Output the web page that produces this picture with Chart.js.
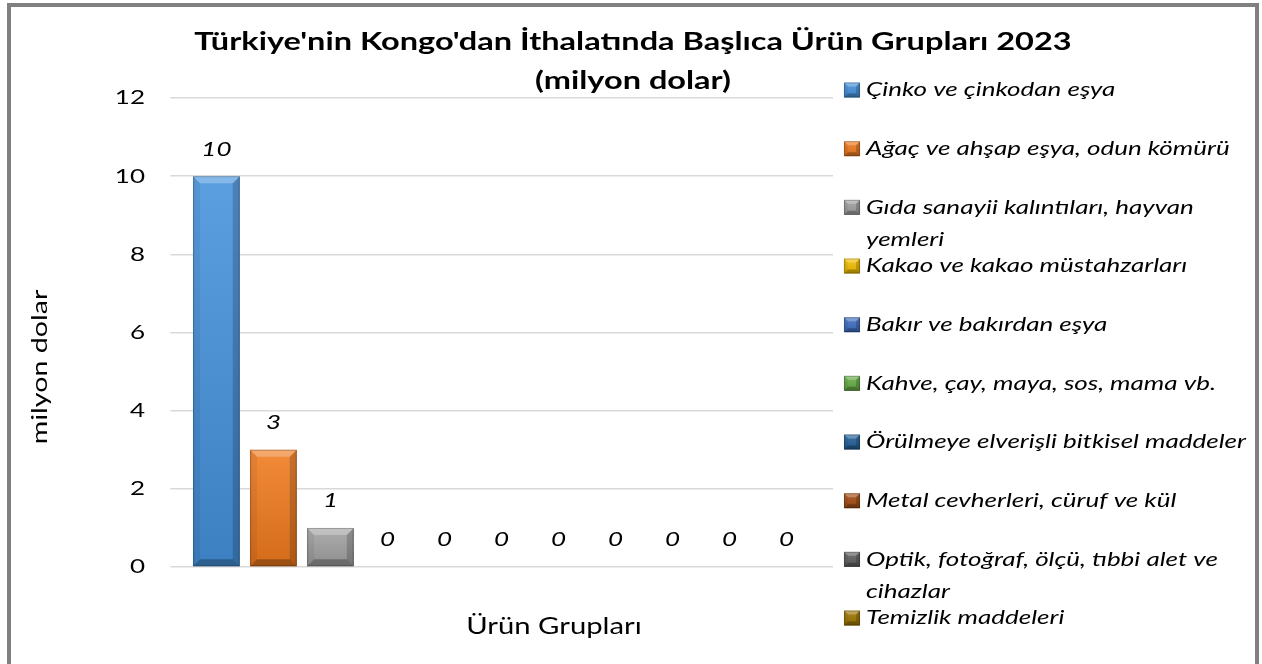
<!DOCTYPE html>
<html><head><meta charset="utf-8">
<script src="https://cdn.jsdelivr.net/npm/chart.js@4/dist/chart.umd.min.js"></script>
<style>
html,body{margin:0;padding:0;background:#fff;}
#wrap{position:relative;width:1262px;height:664px;overflow:hidden;background:#fff;}
#frame{position:absolute;left:7px;top:3px;width:1252px;height:720px;border:4px solid #808080;box-sizing:border-box;pointer-events:none;}
canvas{position:absolute;left:0;top:0;}
</style></head><body>
<div id="wrap"><canvas id="c" width="1262" height="664"></canvas><div id="frame"></div></div>
<script>
const chartTitle = ["Türkiye'nin Kongo'dan İthalatında Başlıca Ürün Grupları 2023", "(milyon dolar)"];
const xTitle = "Ürün Grupları";
const yTitle = "milyon dolar";
const categories = [""];
const seriesLabels = [
  "Çinko ve çinkodan eşya",
  "Ağaç ve ahşap eşya, odun kömürü",
  "Gıda sanayii kalıntıları, hayvan yemleri",
  "Kakao ve kakao müstahzarları",
  "Bakır ve bakırdan eşya",
  "Kahve, çay, maya, sos, mama vb.",
  "Örülmeye elverişli bitkisel maddeler",
  "Metal cevherleri, cüruf ve kül",
  "Optik, fotoğraf, ölçü, tıbbi alet ve cihazlar",
  "Temizlik maddeleri",
  "Diğer"
];
const seriesValues = [10, 3, 1, 0, 0, 0, 0, 0, 0, 0, 0];
const seriesColors = ["#4592DC", "#F07A1E", "#A2A2A2", "#F5C000", "#3F6FC4", "#67AE45", "#23609A", "#A54E14", "#5F5F5F", "#9E7600", "#264478"];
const legendCount = 10;
const yTicks = [0, 2, 4, 6, 8, 10, 12];

const FONT = "Lato, 'Open Sans', sans-serif";
const SX = 1.3;            // horizontal text/canvas stretch of the reference rendering
const L = v => v / SX;     // page x -> logical x

function drawBevel(ctx, x0, y0, x1, y1, bev) {
  const w = x1 - x0, h = y1 - y0;
  if (h < 0.5 || w < 0.5) return;
  const b = Math.min(bev, h / 2, w / 2);
  ctx.save();
  const g = ctx.createLinearGradient(0, y0, 0, y1);
  g.addColorStop(0, 'rgba(255,255,255,0.12)');
  g.addColorStop(1, 'rgba(0,0,0,0.12)');
  ctx.fillStyle = g;
  ctx.fillRect(x0, y0, w, h);
  const poly = (pts, col) => {
    ctx.beginPath();
    ctx.moveTo(pts[0][0], pts[0][1]);
    for (let i = 1; i < pts.length; i++) ctx.lineTo(pts[i][0], pts[i][1]);
    ctx.closePath();
    ctx.fillStyle = col;
    ctx.fill();
  };
  const bx = b / SX;
  poly([[x0, y0], [x1, y0], [x1 - bx, y0 + b], [x0 + bx, y0 + b]], 'rgba(255,255,255,0.26)');
  poly([[x0, y0], [x0 + bx, y0 + b], [x0 + bx, y1 - b], [x0, y1]], 'rgba(0,0,0,0.06)');
  poly([[x1, y0], [x1 - bx, y0 + b], [x1 - bx, y1 - b], [x1, y1]], 'rgba(0,0,0,0.18)');
  poly([[x0, y1], [x0 + bx, y1 - b], [x1 - bx, y1 - b], [x1, y1]], 'rgba(0,0,0,0.26)');
  ctx.strokeStyle = 'rgba(0,0,0,0.22)';
  ctx.lineWidth = 1;
  ctx.strokeRect(x0 + 0.4, y0 + 0.5, w - 0.8, h - 1);
  ctx.restore();
}

const bevelPlugin = {
  id: 'bevel',
  afterDatasetsDraw(chart) {
    const ctx = chart.ctx;
    chart.data.datasets.forEach((ds, i) => {
      chart.getDatasetMeta(i).data.forEach(el => {
        const p = el.getProps(['x', 'y', 'base', 'width'], true);
        drawBevel(ctx, p.x - p.width / 2, Math.min(p.y, p.base), p.x + p.width / 2, Math.max(p.y, p.base), 7);
      });
    });
  }
};

const valueLabelPlugin = {
  id: 'valueLabels',
  afterDatasetsDraw(chart) {
    const ctx = chart.ctx;
    ctx.save();
    ctx.font = 'italic 20px ' + FONT;
    ctx.fillStyle = '#000';
    ctx.textAlign = 'center';
    ctx.textBaseline = 'middle';
    chart.data.datasets.forEach((ds, i) => {
      chart.getDatasetMeta(i).data.forEach((el, j) => {
        const p = el.getProps(['x', 'y'], true);
        ctx.fillText(String(ds.data[j]), p.x, p.y - 27);
      });
    });
    ctx.restore();
  }
};

function wrapText(ctx, text, maxW) {
  const words = text.split(' ');
  const lines = [];
  let cur = '';
  words.forEach(w => {
    const t = cur ? cur + ' ' + w : w;
    if (ctx.measureText(t).width > maxW && cur) { lines.push(cur); cur = w; }
    else cur = t;
  });
  if (cur) lines.push(cur);
  return lines;
}

const legendPlugin = {
  id: 'customLegend',
  afterDraw(chart) {
    const ctx = chart.ctx;
    ctx.save();
    ctx.font = 'italic 20px ' + FONT;
    ctx.textBaseline = 'middle';
    ctx.textAlign = 'left';
    const maxW = ctx.measureText(seriesLabels[6]).width * 1.03;
    const startY = 90, step = 58.67, textX = L(866);
    const mx0 = L(844), mx1 = L(860);
    for (let i = 0; i < legendCount; i++) {
      const ds = chart.data.datasets[i];
      const cy = startY + i * step;
      ctx.fillStyle = ds.backgroundColor;
      ctx.fillRect(mx0, cy - 7.5, mx1 - mx0, 15);
      drawBevel(ctx, mx0, cy - 7.5, mx1, cy + 7.5, 4);
      ctx.fillStyle = '#000';
      const lines = wrapText(ctx, ds.label, maxW);
      lines.forEach((ln, k) => ctx.fillText(ln, textX, cy + k * 32));
    }
    ctx.restore();
  }
};

const titlesPlugin = {
  id: 'titles',
  afterDraw(chart) {
    const ctx = chart.ctx;
    ctx.save();
    ctx.fillStyle = '#000';
    ctx.textAlign = 'center';
    ctx.textBaseline = 'alphabetic';
    ctx.font = 'bold 25px ' + FONT;
    ctx.fillText(chartTitle[0], L(633), 50);
    ctx.fillText(chartTitle[1], L(633), 89);
    ctx.textBaseline = 'middle';
    ctx.font = '22.5px ' + FONT;
    ctx.fillText(xTitle, L(554), 627);
    // vertical title: stretch along the text direction
    ctx.scale(1 / SX, 1);
    ctx.translate(40, 367);
    ctx.rotate(-Math.PI / 2);
    ctx.scale(SX, 1);
    ctx.font = '22px ' + FONT;
    ctx.fillText(yTitle, 0, 0);
    ctx.restore();
  }
};

// must be last: wraps all drawing in the horizontal stretch
const stretchPlugin = {
  id: 'stretch',
  beforeDraw(chart) { chart.ctx.save(); chart.ctx.setTransform(SX, 0, 0, 1, 0, 0); },
  afterDraw(chart) { chart.ctx.restore(); }
};

new Chart(document.getElementById('c'), {
  type: 'bar',
  data: {
    labels: categories,
    datasets: seriesLabels.map((l, i) => ({
      label: l,
      data: [seriesValues[i]],
      backgroundColor: seriesColors[i],
      borderWidth: 0
    }))
  },
  options: {
    responsive: false,
    animation: false,
    devicePixelRatio: 1,
    layout: { padding: { left: 0, right: 1262 - L(833), top: 98, bottom: 97 } },
    datasets: { bar: { categoryPercentage: 0.946, barPercentage: 0.82 } },
    plugins: { legend: { display: false }, title: { display: false }, tooltip: { enabled: false } },
    scales: {
      x: { display: false },
      y: {
        min: 0, max: 12,
        afterFit(s) { s.width = L(170); },
        afterBuildTicks(s) { s.ticks = yTicks.map(v => ({ value: v })); },
        ticks: { padding: L(25), font: { family: FONT, size: 20 }, color: '#000' },
        grid: { color: '#d9d9d9', lineWidth: 1.5, drawTicks: false },
        border: { display: false }
      }
    }
  },
  plugins: [bevelPlugin, valueLabelPlugin, legendPlugin, titlesPlugin, stretchPlugin]
});
</script>
</body></html>
